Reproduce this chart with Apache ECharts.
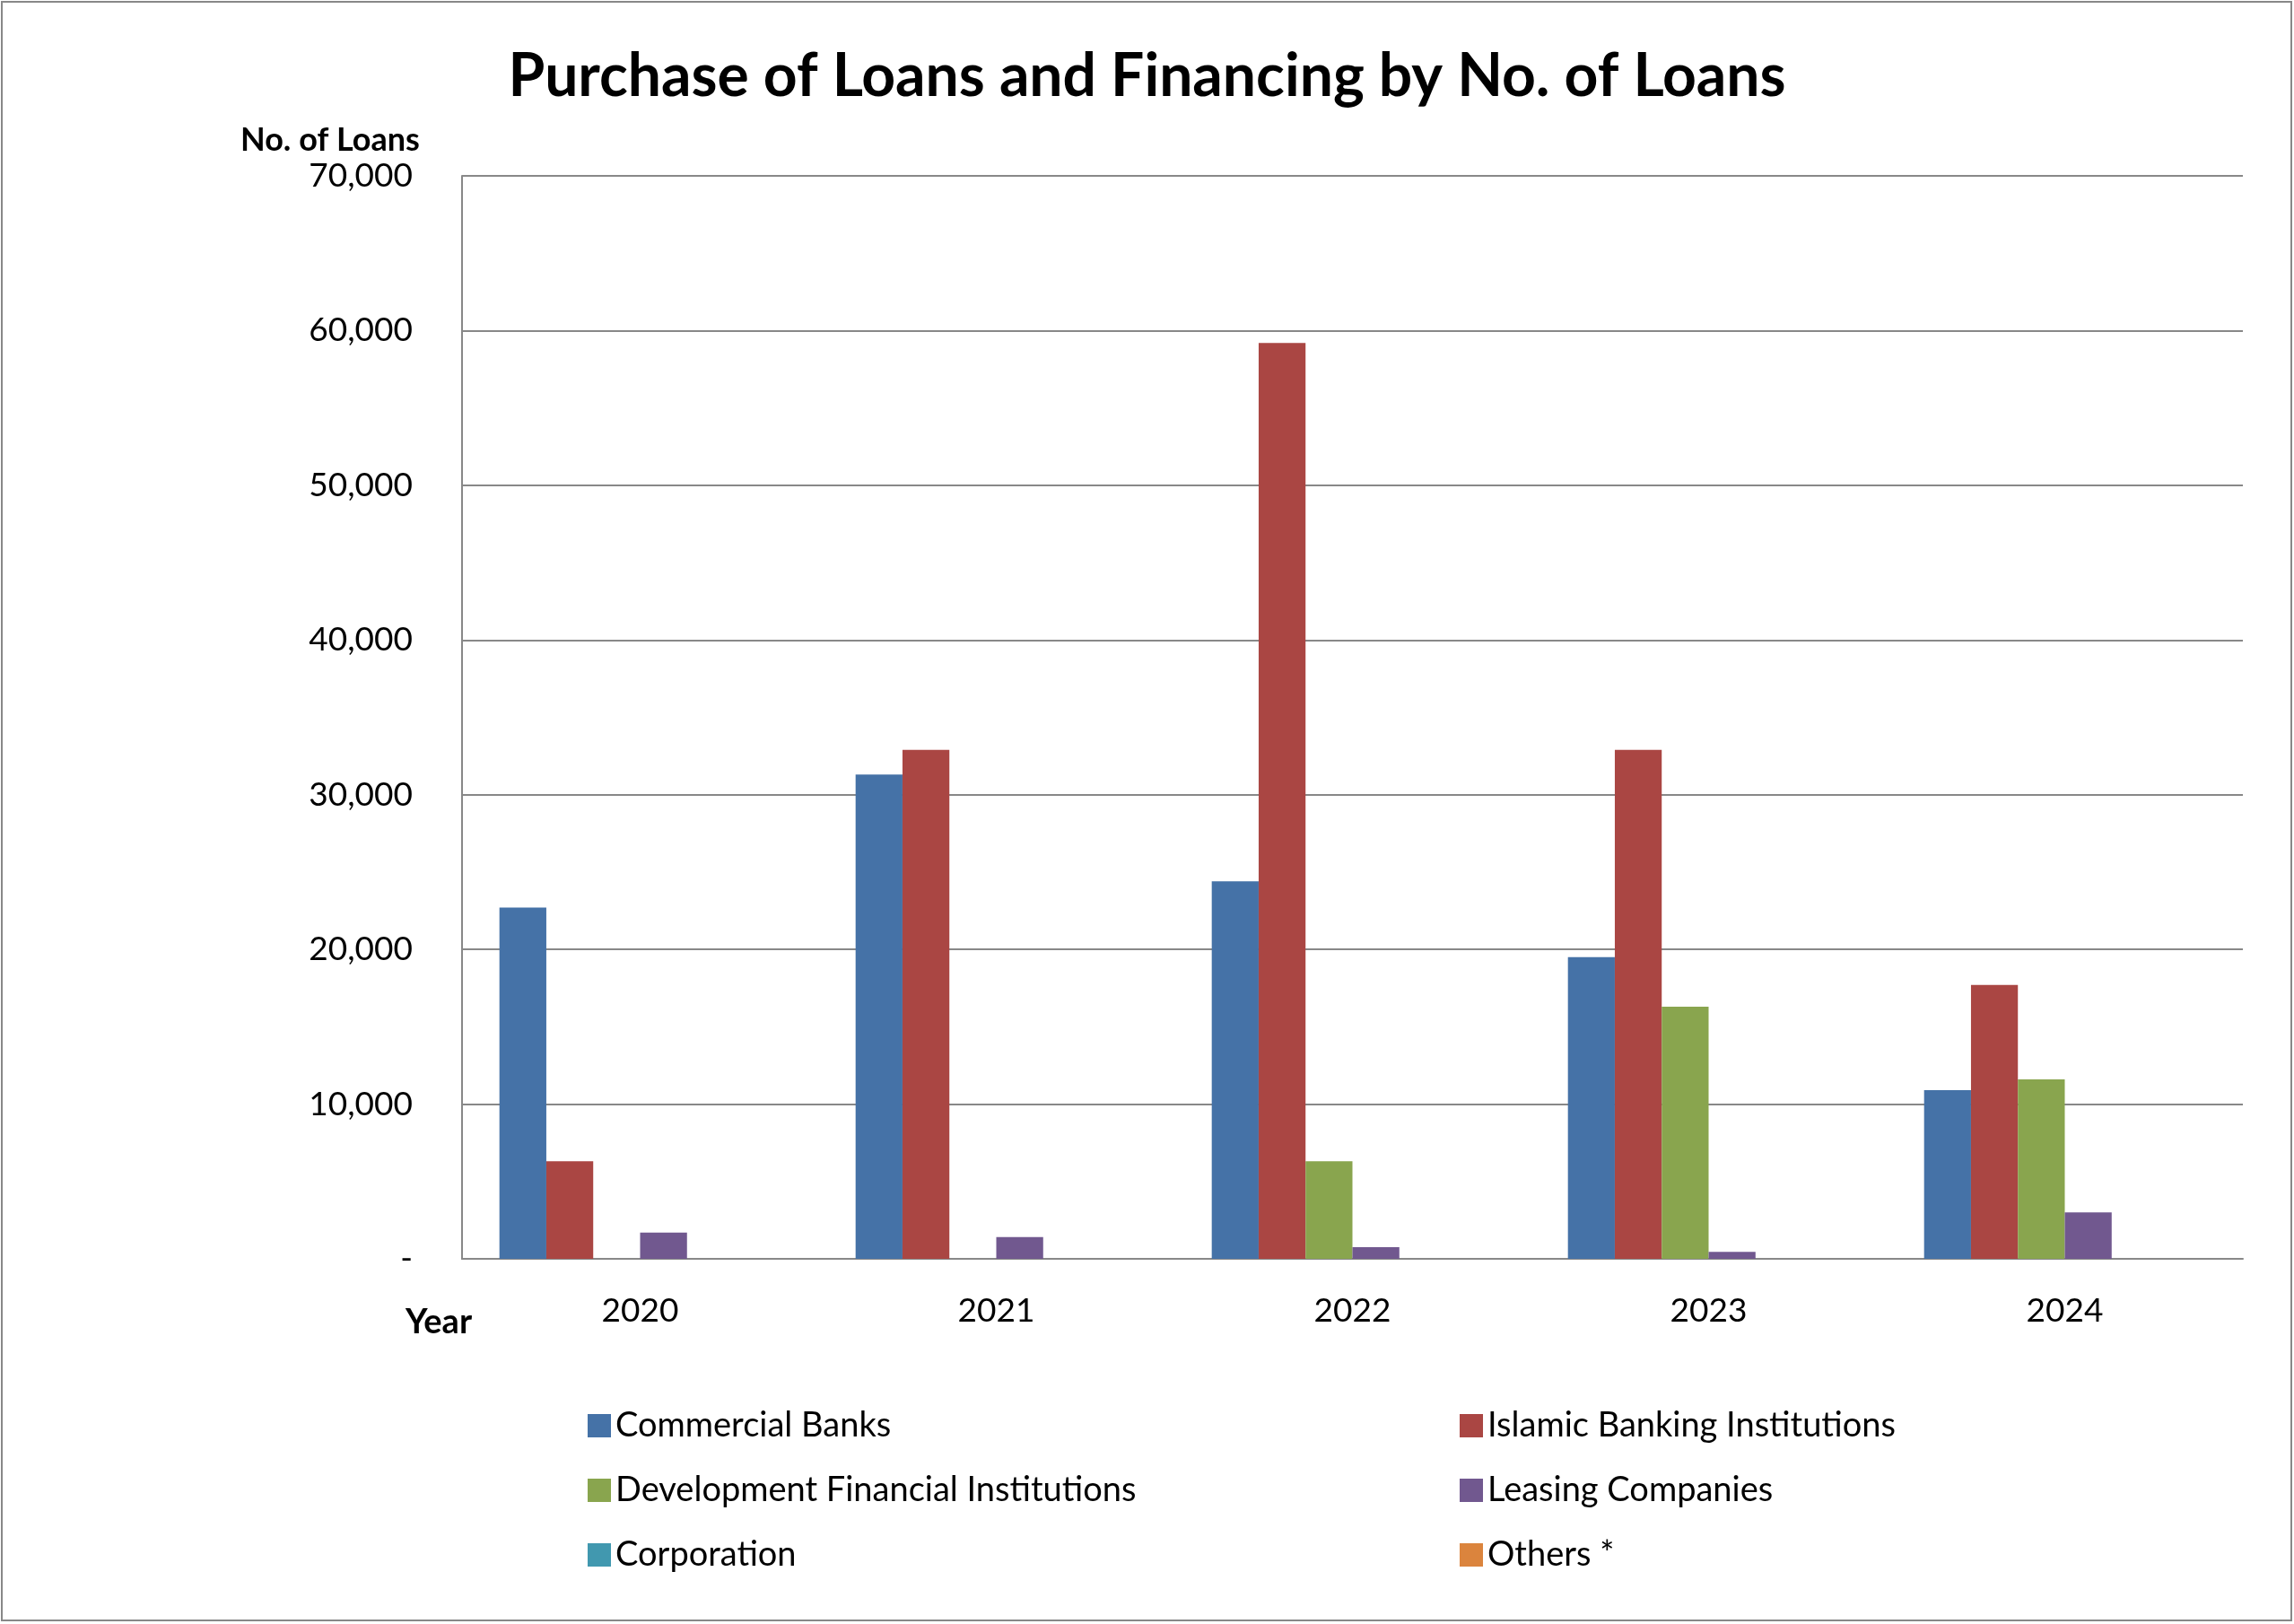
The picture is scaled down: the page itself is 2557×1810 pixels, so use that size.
<!DOCTYPE html>
<html><head><meta charset="utf-8">
<script src="https://cdn.jsdelivr.net/npm/echarts@6/dist/echarts.min.js"></script>
<style>html,body{margin:0;padding:0;background:#fff}#c{width:2557px;height:1810px}</style>
</head><body><div id="c"></div>
<script>
const years = ['2020','2021','2022','2023','2024'];
const seriesNames = ['Commercial Banks','Islamic Banking Institutions','Development Financial Institutions','Leasing Companies','Corporation','Others *'];
const commercialBanks = [22700, 31300, 24400, 19500, 10900];
const islamicBanking = [6300, 32900, 59200, 32900, 17700];
const devFinancial = [0, 0, 6300, 16300, 11600];
const leasing = [1700, 1400, 750, 450, 3000];
const corporation = [0, 0, 0, 0, 0];
const others = [0, 0, 0, 0, 0];
const colors = ['#4572a7','#aa4643','#89a54e','#71588f','#4198af','#db843d'];
const values = [commercialBanks, islamicBanking, devFinancial, leasing, corporation, others];
const font = 'Lato, "Open Sans", sans-serif';
const chart = echarts.init(document.getElementById('c'));
chart.setOption({
  animation:false,
  textStyle:{fontFamily:font},
  title:{text:'Purchase of Loans and Financing by No. of Loans',left:'center',top:48,
    textStyle:{fontSize:66,fontWeight:'bold',color:'#000',fontFamily:font}},
  graphic:[
    {type:'rect',shape:{x:2,y:2,width:2552,height:1804},style:{fill:'none',stroke:'#888',lineWidth:2}},
    {type:'text',left:268,top:138,style:{text:'No. of Loans',font:'bold 36px '+font,fill:'#000'}},
    {type:'text',left:452,top:1455,style:{text:'Year',font:'bold 38px '+font,fill:'#000'}}
  ],
  legend:[
    {data:seriesNames.filter((_,i)=>i%2===0),orient:'vertical',left:650,top:1565,itemGap:34,itemWidth:26,itemHeight:26,icon:'rect',
      textStyle:{fontSize:38,color:'#000',fontFamily:font}},
    {data:seriesNames.filter((_,i)=>i%2===1),orient:'vertical',left:1622,top:1565,itemGap:34,itemWidth:26,itemHeight:26,icon:'rect',
      textStyle:{fontSize:38,color:'#000',fontFamily:font}}
  ],
  grid:{left:515,right:57,top:196,bottom:407,containLabel:false},
  xAxis:{type:'category',data:years,axisTick:{show:false},
    axisLine:{lineStyle:{color:'#888',width:2}},
    axisLabel:{fontSize:37,color:'#000',margin:40}},
  yAxis:{type:'value',min:0,max:70000,interval:10000,
    axisLine:{show:true,lineStyle:{color:'#888',width:2}},
    splitLine:{lineStyle:{color:'#888',width:2}},
    axisLabel:{fontSize:37,color:'#000',margin:55,formatter:v=>v===0?'-':v.toLocaleString('en-US')}},
  series:seriesNames.map((n,i)=>({name:n,type:'bar',data:values[i],barGap:'0%',barCategoryGap:'21%',
    itemStyle:{color:colors[i]}}))
});
</script></body></html>
